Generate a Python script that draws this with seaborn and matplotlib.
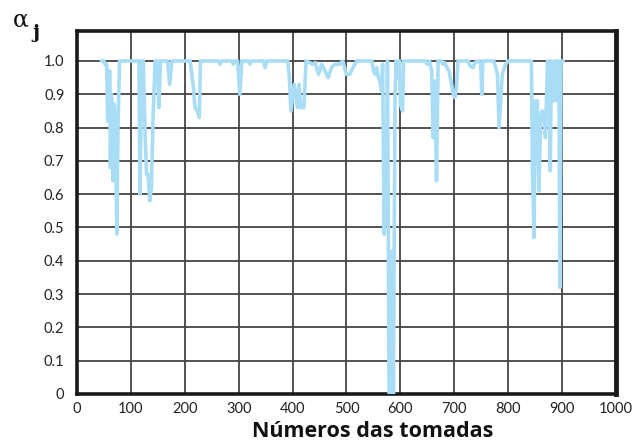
import matplotlib
matplotlib.use("Agg")
import matplotlib.pyplot as plt
import seaborn as sns
import pandas as pd

sample_no = [45, 50, 52, 55, 57, 59, 61, 62, 64, 67, 69, 71, 74, 76, 79, 83, 100, 115, 117, 120,
             123, 126, 129, 132, 135, 138, 141, 145, 149, 152, 155, 168, 172, 176, 210, 213, 216, 219,
             223, 227, 229, 262, 265, 268, 287, 290, 294, 298, 302, 306, 318, 321, 324, 346, 349, 352,
             391, 394, 397, 403, 409, 412, 415, 421, 425, 438, 442, 448, 454, 460, 466, 472, 478, 487,
             493, 500, 506, 512, 519, 547, 550, 553, 556, 559, 562, 565, 567, 570, 572, 574, 576, 579,
             582, 585, 587, 590, 592, 595, 598, 600, 604, 606, 640, 646, 650, 654, 658, 661, 664, 667,
             670, 676, 679, 682, 685, 690, 695, 698, 701, 704, 707, 726, 729, 735, 738, 744, 749, 751,
             753, 773, 776, 780, 783, 786, 789, 794, 799, 843, 845, 848, 850, 852, 854, 857, 860, 863,
             866, 869, 873, 876, 878, 880, 883, 885, 887, 890, 892, 894, 896, 898, 902]
alpha_j = [1.0, 1.0, 0.99, 0.99, 0.82, 0.97, 0.97, 0.68, 0.9, 0.64, 0.87, 0.82, 0.48, 0.80, 1.0, 1.0,
           1.0, 1.0, 0.60, 1.0, 1.0, 0.80, 0.66, 0.66, 0.58, 0.62, 0.82, 1.0, 1.0, 0.86, 1.0, 1.0, 0.93,
           1.0, 1.0, 0.96, 0.92, 0.86, 0.85, 0.83, 1.0, 1.0, 0.99, 1.0, 1.0, 0.99, 1.0, 1.0, 0.90, 1.0,
           1.0, 0.99, 1.0, 1.0, 0.98, 1.0, 1.0, 0.95, 0.85, 0.93, 0.86, 0.93, 0.86, 0.86, 1.0, 0.99,
           0.995, 0.96, 0.99, 0.97, 0.95, 0.98, 0.99, 0.99, 1.0, 0.96, 0.96, 0.98, 1.0, 1.0, 0.97, 0.96,
           0.98, 0.95, 0.94, 0.91, 0.99, 0.48, 0.80, 0.51, 1.0, 0.0, 0.0, 0.43, 0.0, 0.89, 1.0, 0.95,
           1.0, 0.87, 0.85, 1.0, 1.0, 1.0, 0.99, 1.0, 0.97, 0.77, 0.94, 0.64, 1.0, 1.0, 0.99, 0.995,
           0.985, 0.97, 0.93, 0.90, 0.89, 0.92, 1.0, 1.0, 0.985, 0.98, 0.995, 1.0, 0.995, 0.90, 1.0,
           1.0, 0.985, 0.96, 0.80, 0.88, 0.96, 0.985, 1.0, 1.0, 0.67, 0.47, 0.88, 0.70, 0.88, 0.61,
           0.83, 0.85, 0.84, 0.77, 1.0, 0.99, 0.67, 1.0, 0.995, 0.88, 1.0, 1.0, 0.88, 1.0, 0.32, 1.0,
           1.0]

x_ticks = list(range(0, 1001, 100))
y_ticks = [0, 0.1, 0.2, 0.3, 0.4, 0.5, 0.6, 0.7, 0.8, 0.9, 1.0]
y_tick_labels = ["0", "0.1", "0.2", "0.3", "0.4", "0.5", "0.6", "0.7", "0.8", "0.9", "1.0"]
x_label = "Números das tomadas"

sns.set_style("white")
plt.rcParams["font.family"] = ["Lato", "DejaVu Sans"]

df = pd.DataFrame({"n": sample_no, "a": alpha_j})

fig = plt.figure(figsize=(6.32, 4.46), dpi=100)
ax = fig.add_axes([0.1218, 0.1166, 0.8529, 0.8139])

ax.set_xlim(0, 1000)
ax.set_ylim(0, 1.09)
ax.set_xticks(x_ticks)
ax.set_yticks(y_ticks)
ax.set_yticklabels(y_tick_labels)
ax.grid(True, color="#444444", linewidth=1.3)
ax.set_axisbelow(True)

sns.lineplot(data=df, x="n", y="a", color="#a8ddf5", linewidth=2.6,
             estimator=None, sort=False, ax=ax, zorder=3)

for s in ax.spines.values():
    s.set_visible(True)
    s.set_color("#1a1a1a")
    s.set_linewidth(2.6)
ax.spines["right"].set_linewidth(3.5)

ax.tick_params(axis="both", length=0, labelsize=10.5, colors="#222222")
ax.tick_params(axis="y", pad=9)
ax.tick_params(axis="x", pad=6)
ax.set_xlabel("")
ax.set_ylabel("")

fig.text(0.59, 0.008, x_label, ha="center", va="bottom", fontsize=15.5,
         fontweight="bold", family=["Open Sans", "DejaVu Sans"], color="#111111")
fig.text(0.02, 0.955, "α", ha="left", va="center", fontsize=17,
         family=["DejaVu Serif"], color="#111111")
fig.text(0.052, 0.925, "j", ha="left", va="center", fontsize=14, fontweight="bold",
         family=["DejaVu Serif"], color="#111111")

fig.savefig("out.png", dpi=100)
